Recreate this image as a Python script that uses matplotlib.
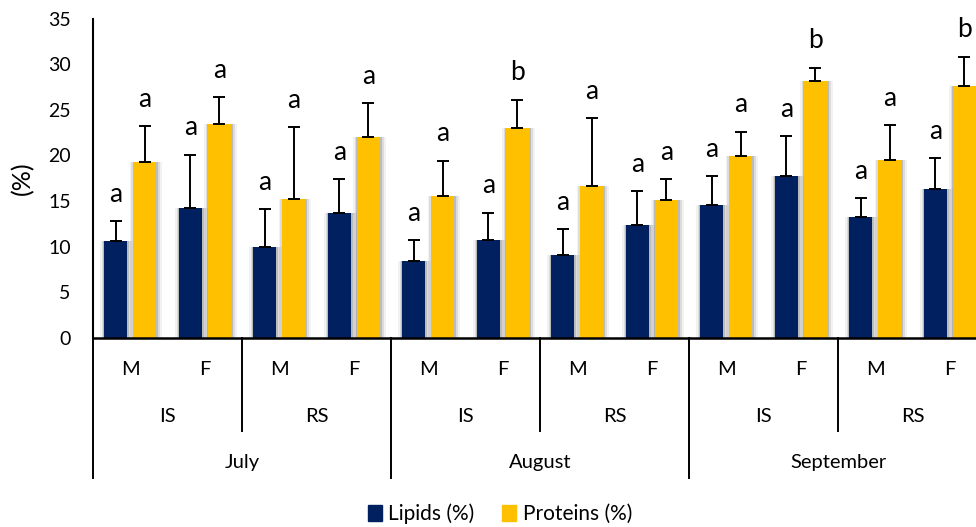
import matplotlib
matplotlib.use("Agg")
import matplotlib.pyplot as plt
import numpy as np
from matplotlib.patches import Patch

plt.rcParams["font.family"] = ["Lato", "DejaVu Sans"]

# sample groups: month / site / sex
months = ["July", "August", "September"]
sites = ["IS", "RS"]
sexes = ["M", "F"]

lipids = [10.6, 14.2, 10.0, 13.7, 8.4, 10.7, 9.1, 12.4, 14.6, 17.8, 13.3, 16.3]
lipids_sd = [2.2, 5.9, 4.1, 3.7, 2.3, 3.0, 2.8, 3.7, 3.1, 4.3, 2.0, 3.4]
proteins = [19.3, 23.4, 15.2, 22.0, 15.6, 23.0, 16.6, 15.1, 19.9, 28.1, 19.5, 27.6]
proteins_sd = [3.9, 3.0, 7.9, 3.7, 3.8, 3.1, 7.5, 2.3, 2.7, 1.5, 3.8, 3.2]

lipids_letters = ["a"] * 12
proteins_letters = ["a", "a", "a", "a", "a", "b", "a", "a", "a", "b", "a", "b"]

navy = "#002060"
gold = "#FFC000"

fig = plt.figure(figsize=(9.76, 5.27), dpi=100)
ax = fig.add_axes([93 / 976, 189 / 527, 894 / 976, 319.5 / 527])

x = np.arange(len(lipids))
w = 0.31
off = 0.195

# soft drop shadow behind the bars
for dx, extra, a in [(0.015, 0.13, 0.05), (0.012, 0.08, 0.09), (0.008, 0.035, 0.15)]:
    ax.bar(x - off + dx, lipids, width=w + extra, color="black", alpha=a, zorder=1, linewidth=0)
    ax.bar(x + off + dx, proteins, width=w + extra, color="black", alpha=a, zorder=1, linewidth=0)

ax.bar(x - off, lipids, width=w, color=navy, zorder=2)
ax.bar(x + off, proteins, width=w, color=gold, zorder=2)

ax.errorbar(x - off, lipids, yerr=[np.zeros(12), lipids_sd], fmt="none",
            ecolor="black", elinewidth=1.4, capsize=4.5, capthick=1.4, zorder=3)
ax.errorbar(x + off, proteins, yerr=[np.zeros(12), proteins_sd], fmt="none",
            ecolor="black", elinewidth=1.4, capsize=4.5, capthick=1.4, zorder=3)

for i in range(12):
    ax.annotate(lipids_letters[i], (x[i] - off, lipids[i] + lipids_sd[i]),
                xytext=(0, 14), textcoords="offset points", ha="center",
                va="baseline", fontsize=19)
    ax.annotate(proteins_letters[i], (x[i] + off, proteins[i] + proteins_sd[i]),
                xytext=(0, 14), textcoords="offset points", ha="center",
                va="baseline", fontsize=19)

ax.set_xlim(-0.5, 11.5)
ax.set_ylim(0, 35)
ax.set_yticks(range(0, 36, 5))
ax.tick_params(axis="y", length=0, pad=16, labelsize=14)
ax.set_xticks([])
for s in ["top", "right"]:
    ax.spines[s].set_visible(False)
ax.spines["left"].set_linewidth(1.5)
ax.spines["bottom"].set_linewidth(1.8)
ax.set_ylabel("(%)", fontsize=18, labelpad=10)

# multi-level category axis
tr = ax.get_xaxis_transform()
for i in range(12):
    ax.text(x[i], -0.100, sexes[i % 2], transform=tr, ha="center", va="center", fontsize=14.5)
for j in range(6):
    ax.text(2 * j + 0.5, -0.246, sites[j % 2], transform=tr, ha="center", va="center", fontsize=14.5)
for k in range(3):
    ax.text(4 * k + 1.5, -0.391, months[k], transform=tr, ha="center", va="center", fontsize=14.5)

for b in [1.5, 5.5, 9.5]:
    ax.plot([b, b], [0, -0.291], transform=tr, color="black", lw=1.4, clip_on=False)
for b in [-0.5, 3.5, 7.5, 11.5]:
    ax.plot([b, b], [0, -0.438], transform=tr, color="black", lw=1.4, clip_on=False)

handles = [Patch(color=navy, label="Lipids (%)"), Patch(color=gold, label="Proteins (%)")]
fig.legend(handles=handles, loc="center", bbox_to_anchor=(0.512, 0.025), ncol=2,
           frameon=False, fontsize=15, handlelength=0.7, handleheight=0.85,
           handletextpad=0.3, columnspacing=1.3)

fig.savefig("out.png", dpi=100)
plt.close()
